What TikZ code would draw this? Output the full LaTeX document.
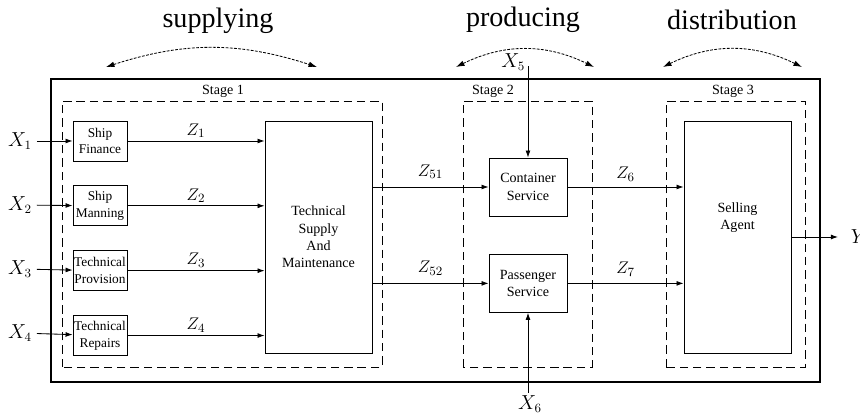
\documentclass[tikz,border=0pt]{standalone}
\usepackage{fontspec}
\setmainfont{Liberation Serif}
\usepackage{amsmath}
\usepackage{tikz}
\usetikzlibrary{arrows.meta,positioning}
\tikzset{
    unitbox/.style={draw, line width=0.6pt, align=center, inner sep=1pt, font=\fontsize{10}{12.3}\selectfont},
    smallbox/.style={unitbox, inner xsep=0pt, minimum width=1.35cm, minimum height=1.0cm, font=\fontsize{9.5}{11.8}\selectfont},
    midbox/.style={unitbox, minimum width=1.95cm, minimum height=1.45cm},
    bigbox/.style={unitbox, minimum width=2.675cm, minimum height=5.8cm},
    stagebox/.style={draw, line width=0.6pt, dash pattern=on 6pt off 3.5pt},
    stagelabel/.style={font=\fontsize{10}{12}\selectfont},
    phaselabel/.style={font=\fontsize{20}{24}\selectfont},
    flow/.style={-{Latex[length=5pt,width=3.5pt]}, line width=0.6pt},
    phase/.style={{Latex[length=6pt,width=4pt]}-{Latex[length=6pt,width=4pt]}, line width=0.6pt, dash pattern=on 2pt off 1pt},
    varlabel/.style={font=\fontsize{13.5}{16}\selectfont},
    zlabel/.style={font=\fontsize{13}{15}\selectfont, above, inner sep=2pt}
}
\begin{document}
\begin{tikzpicture}
        \useasboundingbox (0,0) rectangle (21.5,10.375);

        \node[phaselabel] (sup) at (5.45,9.85) {supplying};
        \node[phaselabel] (prod) at (13.075,9.88) {producing};
        \node[phaselabel] (dist) at (18.3,9.88) {distribution};
        \coordinate (supA) at (2.65,8.7);
        \coordinate (supB) at (7.925,8.7);
        \coordinate (prodA) at (11.4,8.7);
        \coordinate (prodB) at (14.85,8.7);
        \coordinate (distA) at (16.575,8.7);
        \coordinate (distB) at (20.05,8.7);
        \draw[phase] (supA) to[bend left=18] (supB);
        \draw[phase] (prodA) to[bend left=26] (prodB);
        \draw[phase] (distA) to[bend left=26] (distB);

        \draw[line width=1.4pt] (1.275,0.825) rectangle (20.5,8.4);

        \draw[stagebox] (1.55,1.2) rectangle (9.55,7.85);
        \draw[stagebox] (11.575,1.2) rectangle (14.8,7.85);
        \draw[stagebox] (16.65,1.2) rectangle (20.125,7.85);
        \node[stagelabel] (st1) at (5.575,8.1) {Stage 1};
        \node[stagelabel] (st2) at (12.325,8.1) {Stage 2};
        \node[stagelabel] (st3) at (18.325,8.1) {Stage 3};

        \node[smallbox] (fin) at (2.5,6.85) {Ship\\Finance};
        \node[smallbox, below=0.6cm of fin] (man) {Ship\\Manning};
        \node[smallbox, below=0.6cm of man] (prov) {Technical\\Provision};
        \node[smallbox, below=0.6cm of prov] (rep) {Technical\\Repairs};
        \node[bigbox] (tech) at (7.9625,4.45) {Technical\\Supply\\And\\Maintenance};

        \node[varlabel] (x1) at (0.5,6.85) {$X_1$};
        \node[varlabel] (x2) at (0.5,5.25) {$X_2$};
        \node[varlabel] (x3) at (0.5,3.65) {$X_3$};
        \node[varlabel] (x4) at (0.5,2.05) {$X_4$};
        \draw[flow] (x1) -- (fin);
        \draw[flow] (x2) -- (man);
        \draw[flow] (x3) -- (prov);
        \draw[flow] (x4) -- (rep);

        \draw[flow] (fin) -- (fin -| tech.west) node[zlabel, midway] {$Z_1$};
        \draw[flow] (man) -- (man -| tech.west) node[zlabel, midway] {$Z_2$};
        \draw[flow] (prov) -- (prov -| tech.west) node[zlabel, midway] {$Z_3$};
        \draw[flow] (rep) -- (rep -| tech.west) node[zlabel, midway] {$Z_4$};

        \node[midbox] (cont) at (13.2,5.7) {Container\\Service};
        \node[midbox] (pass) at (13.2,3.29) {Passenger\\Service};
        \draw[flow] (tech.east |- cont) -- (cont) node[zlabel, midway, yshift=0.12cm] {$Z_{51}$};
        \draw[flow] (tech.east |- pass) -- (pass) node[zlabel, midway, yshift=0.12cm] {$Z_{52}$};

        \coordinate (x5in) at (13.2,8.72);
        \node[varlabel] (x5) at (12.83,8.83) {$X_5$};
        \draw[flow] (x5in) -- (cont);
        \coordinate (x6in) at (13.2,0.55);
        \node[varlabel] (x6) at (13.25,0.28) {$X_6$};
        \draw[flow] (x6in) -- (pass);

        \node[bigbox] (sell) at (18.4375,4.45) {};
        \node[unitbox, draw=none] (selltext) at (18.4375,4.925) {Selling\\Agent};
        \draw[flow] (cont) -- (cont -| sell.west) node[zlabel, midway, yshift=0.06cm] {$Z_6$};
        \draw[flow] (pass) -- (pass -| sell.west) node[zlabel, midway, yshift=0.1cm] {$Z_7$};

        \coordinate (yout) at (20.95,4.45);
        \draw[flow] (sell) -- (yout);
        \node[varlabel, anchor=west] (y) at (21.15,4.45) {$Y$};
    \end{tikzpicture}
\end{document}
